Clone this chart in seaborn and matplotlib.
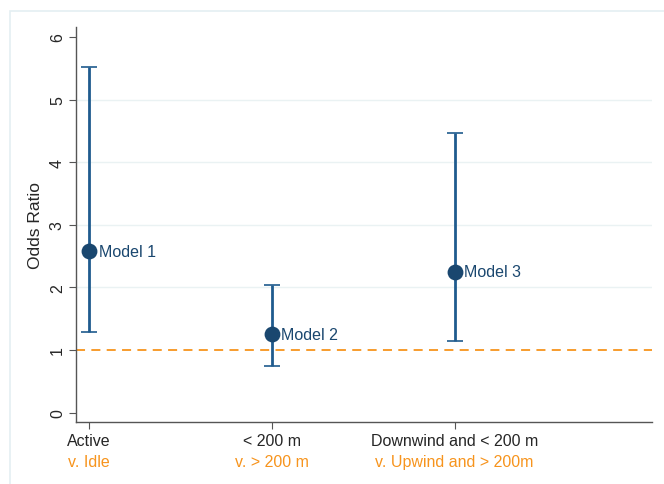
import matplotlib
matplotlib.use("Agg")
import matplotlib.pyplot as plt
import seaborn as sns
import pandas as pd
from matplotlib.patches import Rectangle

# --- datos ---
modelos = ['Model 1', 'Model 2', 'Model 3']
posicion = [1, 2, 3]
odds = [2.58, 1.25, 2.25]
ic_bajo = [1.29, 0.74, 1.15]
ic_alto = [5.52, 2.04, 4.47]
etiqueta_1 = ['Active', '< 200 m', 'Downwind and < 200 m']
etiqueta_2 = ['v. Idle', 'v. > 200 m', 'v. Upwind and > 200m']

df = pd.DataFrame({'modelo': modelos, 'x': posicion, 'odds': odds,
                   'bajo': ic_bajo, 'alto': ic_alto})

sns.set_theme(style="white")
plt.rcParams['font.family'] = ['Liberation Sans', 'DejaVu Sans']

AZUL = '#1a476f'
AZUL_LINEA = '#1f5b8e'
NARANJA = '#f7941d'

fig = plt.figure(figsize=(6.64, 4.85), dpi=100)
# marco exterior estilo Stata (sale por la derecha y por abajo)
fig.patches.append(Rectangle((10 / 664, -0.1), 1.0, 1 - 12 / 485 + 0.1,
                             transform=fig.transFigure, fill=False,
                             edgecolor='#e4eff2', linewidth=1.2))
ax = fig.add_axes([76 / 664, 62 / 485, 576 / 664, 395 / 485])

# líneas de cuadrícula
for y in [2, 3, 4, 5]:
    ax.axhline(y, color='#eaf2f3', linewidth=1, zorder=0)
ax.axhline(1, color=NARANJA, linestyle=(0, (5, 3.5)), linewidth=1.3, zorder=1)

ax.errorbar(df['x'], df['odds'],
            yerr=[df['odds'] - df['bajo'], df['alto'] - df['odds']],
            fmt='none', ecolor=AZUL_LINEA, elinewidth=2, capsize=5.5, capthick=1.2, zorder=2)
sns.scatterplot(data=df, x='x', y='odds', color=AZUL, s=130, edgecolor=AZUL,
                linewidth=0, zorder=3, ax=ax, legend=False)
for _, r in df.iterrows():
    ax.annotate(r['modelo'], (r['x'], r['odds']), xytext=(7, 0),
                textcoords='offset points', va='center', ha='left',
                fontsize=11.5, color=AZUL)

ax.set_xlim(0.93, 4.08)
ax.set_ylim(-0.15, 6.16)
ax.set_yticks(range(0, 7))
ax.set_yticklabels([str(i) for i in range(0, 7)], rotation=90, va='center', fontsize=11.5)
ax.set_xticks(posicion)
ax.set_xticklabels(etiqueta_1, fontsize=11.5)
for x, t in zip(posicion, etiqueta_2):
    ax.text(x, -0.08, t, transform=ax.get_xaxis_transform(), ha='center', va='top',
            fontsize=11.5, color=NARANJA)
ax.tick_params(axis='both', length=5, width=0.8, color='#555555', bottom=True, left=True, pad=3)
ax.set_ylabel('Odds Ratio', fontsize=12.5, labelpad=5)
ax.set_xlabel('')

for lado in ['top', 'right']:
    ax.spines[lado].set_visible(False)
for lado in ['left', 'bottom']:
    ax.spines[lado].set_color('#555555')
    ax.spines[lado].set_linewidth(1)

plt.savefig('out.png', dpi=100)
plt.close()
print("✓ out.png")
